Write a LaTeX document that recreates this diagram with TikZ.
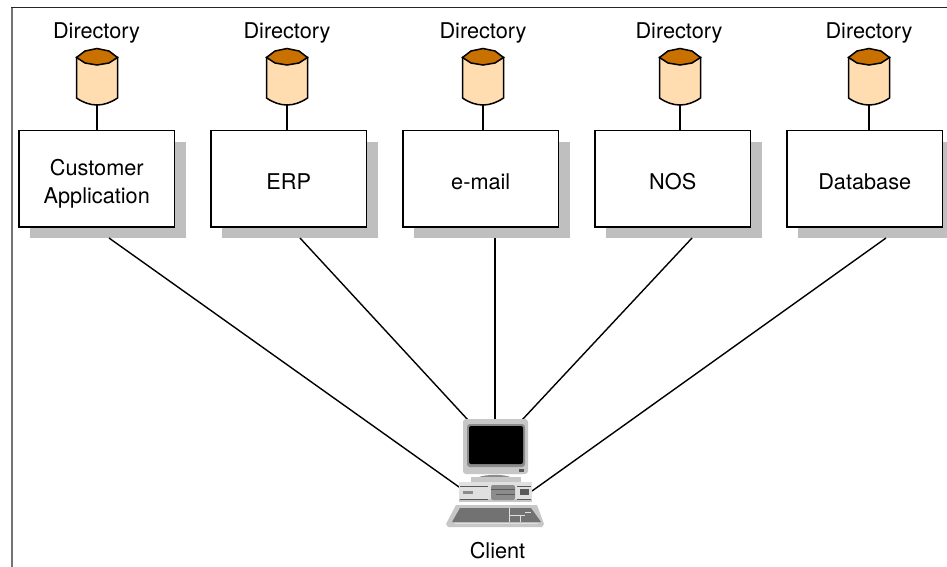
\documentclass[tikz,border=0pt]{standalone}
\usepackage{fontspec}
\setmainfont{TeX Gyre Heros}
\tikzset{
  x=1pt,y=-1pt,
  every node/.style={font=\fontsize{21.7}{28}\selectfont,inner sep=0pt,outer sep=0pt},
  appbox/.style={draw=black,line width=1.4pt,fill=white,minimum width=155.5pt,minimum height=96.5pt},
  boxtext/.style={align=center},
  shadowbox/.style={fill=black!25,minimum width=155.5pt,minimum height=96.5pt},
  link/.style={draw=black,line width=1.4pt},
  dirlabel/.style={anchor=base},
  pics/dbcyl/.style={code={
    \filldraw[draw=black,line width=1.5pt,fill=cylbody]
      (-20.5,57.5) -- (-20.5,98) .. controls (-14,102.5) and (-7,105) .. (0,105)
      .. controls (7,105) and (14,102.5) .. (20.5,98) -- (20.5,57.5) -- cycle;
    \filldraw[draw=black,line width=1.5pt,fill=cyltop]
      (-20.5,57.5) -- (-12,51) -- (0,48.5) -- (12,51) -- (20.5,57.5) -- (12,63) -- (0,65) -- (-12,63) -- cycle;
    \coordinate (-b) at (0,105);
  }},
}
\definecolor{cylbody}{HTML}{FFDDB0}
\definecolor{cyltop}{HTML}{C87000}
\definecolor{pcl}{gray}{0.78}
\definecolor{pcm}{gray}{0.55}
\definecolor{pcd}{gray}{0.35}
\definecolor{pcv}{gray}{0.88}
\begin{document}
\begin{tikzpicture}
\useasboundingbox (0,0) rectangle (947,567);
\fill[white] (0,0) rectangle (947,567);
% frame
\draw[line width=2pt,draw=black!55] (12,7) -- (12,567);
\draw[line width=1pt,draw=black!85] (11,7.5) -- (947,7.5);
% shadows (clipped by the page on the right)
\begin{scope}
\clip (0,0) rectangle (947,567);
\node[shadowbox] (s1) at (107.75,189.75) {};
\node[shadowbox] (s2) at (299.75,189.75) {};
\node[shadowbox] (s3) at (491.75,189.75) {};
\node[shadowbox] (s4) at (683.75,189.75) {};
\node[shadowbox] (s5) at (875.75,189.75) {};
\end{scope}
% boxes
\node[appbox] (b1) at (96.75,178.75) {};
\node[appbox] (b2) at (288.75,178.75) {};
\node[appbox] (b3) at (480.75,178.75) {};
\node[appbox] (b4) at (672.75,178.75) {};
\node[appbox] (b5) at (864.75,178.75) {};
\node[boxtext,yshift=-5pt] (t1) at (b1) {Customer\\Application};
\node[boxtext,yshift=-3pt] (t2) at (b2) {ERP};
\node[boxtext,yshift=-3pt] (t3) at (b3) {e-mail};
\node[boxtext,yshift=-3pt] (t4) at (b4) {NOS};
\node[boxtext,yshift=-3pt] (t5) at (b5) {Database};
% cylinders
\pic (d1) at (97,0) {dbcyl};
\pic (d2) at (287,0) {dbcyl};
\pic (d3) at (483,0) {dbcyl};
\pic (d4) at (680,0) {dbcyl};
\pic (d5) at (869,0) {dbcyl};
\node[dirlabel] (l1) at (96.5,38.5) {Directory};
\node[dirlabel] (l2) at (287,38.5) {Directory};
\node[dirlabel] (l3) at (483,38.5) {Directory};
\node[dirlabel] (l4) at (679,38.5) {Directory};
\node[dirlabel] (l5) at (869,38.5) {Directory};
\draw[link] (d1-b) -- (b1.north -| d1-b);
\draw[link] (d2-b) -- (b2.north -| d2-b);
\draw[link] (d3-b) -- (b3.north -| d3-b);
\draw[link] (d4-b) -- (b4.north -| d4-b);
\draw[link] (d5-b) -- (b5.north -| d5-b);
% connector ends
\coordinate (f1) at (109,238);
\coordinate (f2) at (300,238);
\coordinate (f3) at (495,238);
\coordinate (f4) at (692,238);
\coordinate (f5) at (886,238);
\coordinate (c1) at (459,487);
\coordinate (c2) at (468,420);
\coordinate (c3) at (495,420);
\coordinate (c4) at (522,420);
\coordinate (c5) at (532,491);
\draw[link] (f1) -- (c1);
\draw[link] (f2) -- (c2);
\draw[link] (f3) -- (c3);
\draw[link] (f4) -- (c4);
\draw[link] (f5) -- (c5);
% client computer: monitor
\fill[pcl,rounded corners=3pt] (463,419) rectangle (528,474);
\fill[pcm,rounded corners=3pt] (467,424) rectangle (525,467);
\fill[black,rounded corners=2pt] (469,426) rectangle (523,464);
\fill[pcd] (519,469) rectangle (524,472);
% stand
\fill[pcm] (478,477.5) .. controls (484,474) and (506,474) .. (511,477.5) -- cycle;
\fill[pcl] (471,477) rectangle (521,482);
% base unit
\fill[pcv] (459,482) rectangle (532,502);
\fill[pcl] (459,499) rectangle (532,502);
\draw[line width=0.9pt,draw=pcd] (460,486) -- (488,486);
\draw[line width=0.9pt,draw=pcd] (460,499) -- (488,499);
\draw[line width=0.9pt,draw=pcd] (517,486) -- (531,486);
\draw[line width=0.9pt,draw=pcd] (517,499) -- (531,499);
\fill[pcm] (463,490.5) rectangle (473,494);
\fill[pcm,rounded corners=2pt] (491,485) rectangle (515,500);
\draw[line width=0.9pt,draw=pcd] (491,489.5) -- (515,489.5);
\draw[line width=0.9pt,draw=pcd] (496,494) -- (515,494);
\fill[pcd] (520,489) rectangle (529,495);
% keyboard
\fill[pcl] (456,505) -- (537,505) -- (544,524) -- (542,527) -- (448,527) -- (446,524) -- cycle;
\fill[pcd!85!white] (460,508) -- (531,508) -- (541,522) -- (452,522) -- cycle;
\draw[line width=0.6pt,draw=pcv] (509,508) -- (509,522) (509,515) -- (525,515) (520,515) -- (520,522) (525,512) -- (531,512);
\draw[line width=0.7pt,draw=pcv] (455,523) -- (538,523);
\node[anchor=base] (client) at (497.5,558) {Client};
\end{tikzpicture}
\end{document}
